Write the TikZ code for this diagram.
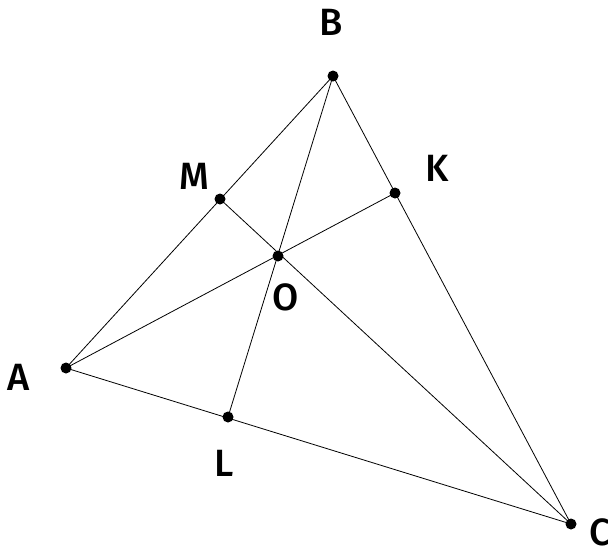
\documentclass[tikz,border=0pt]{standalone}
\usepackage{fontspec}
\setmainfont{Fira Sans}[UprightFont=* Medium]
\begin{document}
\begin{tikzpicture}[x=1pt,y=-1pt,
    pt/.style={circle,fill=black,inner sep=0pt,minimum size=11pt},
    lbl/.style={font=\fontsize{38}{38}\selectfont,inner sep=0pt}]
    \useasboundingbox (0,0) rectangle (608,549);

    % Vertices of the triangle
    \node[pt] (A) at (66,368) {};
    \node[pt] (B) at (333,76) {};
    \node[pt] (C) at (571,524) {};

    % Points on the sides and the common point
    \node[pt] (M) at (220,199) {};
    \node[pt] (K) at (395,193) {};
    \node[pt] (L) at (228,417) {};
    \node[pt] (O) at (278,256) {};

    % Sides
    \draw[line width=0.8pt] (A.center) -- (B.center) -- (C.center) -- cycle;

    % Cevians through O
    \draw[line width=0.8pt] (A.center) -- (K.center);
    \draw[line width=0.8pt] (B.center) -- (L.center);
    \draw[line width=0.8pt] (C.center) -- (M.center);

    % Labels
    \node[lbl] (lA) at (19,377) {A};
    \node[lbl] (lB) at (331,22) {B};
    \node[lbl] (lC) at (600,532) {C};
    \node[lbl] (lM) at (194,176) {M};
    \node[lbl] (lK) at (437,168) {K};
    \node[lbl] (lL) at (224,463) {L};
    \node[lbl] (lO) at (286,297) {O};

\end{tikzpicture}
\end{document}
